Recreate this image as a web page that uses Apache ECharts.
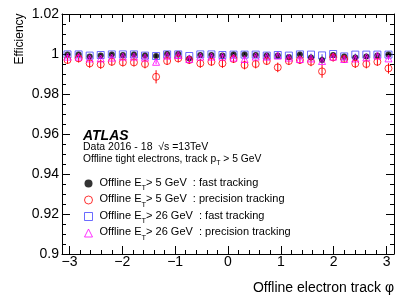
<!DOCTYPE html>
<html>
<head>
<meta charset="utf-8">
<script src="https://cdn.jsdelivr.net/npm/echarts@6/dist/echarts.min.js"></script>
<style>html,body{margin:0;padding:0;background:#fff;}#c{width:415px;height:298px;}</style>
</head>
<body>
<div id="c"></div>
<script>
// Bin centres in phi (30 bins over -pi..pi)
const phi = [-3.037,-2.827,-2.618,-2.409,-2.199,-1.990,-1.780,-1.571,-1.361,-1.152,
             -0.942,-0.733,-0.524,-0.314,-0.105, 0.105, 0.314, 0.524, 0.733, 0.942,
              1.152, 1.361, 1.571, 1.780, 1.990, 2.199, 2.409, 2.618, 2.827, 3.037];
// Offline ET > 5 GeV : fast tracking
const effFast5 = [0.9998,0.9998,0.9987,0.9992,0.9998,0.9995,0.9998,0.9992,0.9990,1.0000,
                  1.0000,0.9978,0.9995,0.9995,0.9992,0.9998,0.9998,0.9995,0.9992,0.9992,
                  0.9985,0.9998,0.9982,0.9970,0.9995,0.9987,0.9983,0.9987,0.9992,0.9998];
const errFast5 = [0.0008,0.0008,0.0009,0.0009,0.0008,0.0008,0.0008,0.0009,0.0010,0.0008,
                  0.0008,0.0010,0.0008,0.0008,0.0008,0.0008,0.0008,0.0008,0.0008,0.0008,
                  0.0009,0.0008,0.0010,0.0018,0.0008,0.0009,0.0009,0.0009,0.0008,0.0008];
// Offline ET > 5 GeV : precision tracking
const effPrec5 = [0.9970,0.9978,0.9953,0.9948,0.9961,0.9958,0.9958,0.9950,0.9886,0.9965,
                  0.9978,0.9970,0.9953,0.9961,0.9953,0.9975,0.9945,0.9950,0.9965,0.9933,
                  0.9965,0.9970,0.9961,0.9913,0.9983,0.9975,0.9952,0.9950,0.9961,0.9928];
const errPrec5 = [0.0020,0.0020,0.0022,0.0022,0.0020,0.0020,0.0020,0.0022,0.0033,0.0020,
                  0.0020,0.0020,0.0022,0.0020,0.0022,0.0020,0.0022,0.0022,0.0020,0.0024,
                  0.0020,0.0020,0.0022,0.0032,0.0020,0.0020,0.0022,0.0022,0.0020,0.0026];
// Offline ET > 26 GeV : fast tracking
const effFast26 = [0.9998,0.9998,0.9992,0.9995,0.9998,0.9998,0.9998,0.9992,0.9990,0.9998,
                   0.9998,0.9990,0.9998,0.9998,0.9995,0.9997,0.9997,0.9997,0.9992,0.9995,
                   0.9992,0.9998,0.9997,0.9993,1.0000,0.9988,0.9997,0.9997,0.9997,0.9997];
const errFast26 = [0.0005,0.0005,0.0005,0.0005,0.0005,0.0005,0.0005,0.0005,0.0006,0.0005,
                   0.0005,0.0006,0.0005,0.0005,0.0005,0.0005,0.0005,0.0005,0.0005,0.0005,
                   0.0005,0.0005,0.0005,0.0006,0.0005,0.0006,0.0005,0.0005,0.0005,0.0005];
// Offline ET > 26 GeV : precision tracking
const effPrec26 = [0.9987,0.9987,0.9978,0.9978,0.9982,0.9987,0.9987,0.9982,0.9961,0.9992,
                   0.9995,0.9975,0.9987,0.9987,0.9987,0.9982,0.9975,0.9987,0.9987,0.9992,
                   0.9982,0.9975,0.9978,0.9965,0.9987,0.9975,0.9978,0.9983,0.9992,0.9978];
const errPrec26 = [0.0008,0.0008,0.0009,0.0009,0.0008,0.0008,0.0008,0.0009,0.0012,0.0008,
                   0.0008,0.0009,0.0008,0.0008,0.0008,0.0008,0.0009,0.0008,0.0008,0.0008,
                   0.0008,0.0009,0.0009,0.0012,0.0008,0.0009,0.0009,0.0008,0.0008,0.0009];

const xTickLabels = [-3,-2,-1,0,1,2,3];
const yTickLabels = [0.9,0.92,0.94,0.96,0.98,1,1.02];
const X_MIN = -Math.PI, X_MAX = Math.PI;
const minorX = [];
for (let k = -15; k <= 15; k++) minorX.push(k * 0.2);

const FONT = "'Liberation Sans', Arial, Helvetica, sans-serif";

const seriesDefs = [
  {name:'fast5',  eff:effFast5,  err:errFast5,  color:'#000000', symbol:'circle',   size:6, fill:'#000000'},
  {name:'prec5',  eff:effPrec5,  err:errPrec5,  color:'#ff0000', symbol:'circle',   size:7, fill:'rgba(0,0,0,0)'},
  {name:'fast26', eff:effFast26, err:errFast26, color:'#4646ff', symbol:'rect',     size:7, fill:'rgba(0,0,0,0)'},
  {name:'prec26', eff:effPrec26, err:errPrec26, color:'#ff00ff', symbol:'triangle', size:7, fill:'rgba(0,0,0,0)'}
];
const legendText = {
  fast5:  '{t|Offline E}{s|T}{t|> 5 GeV  : fast tracking}',
  prec5:  '{t|Offline E}{s|T}{t|> 5 GeV  : precision tracking}',
  fast26: '{t|Offline E}{s|T}{t|> 26 GeV  : fast tracking}',
  prec26: '{t|Offline E}{s|T}{t|> 26 GeV  : precision tracking}'
};

const series = [];
const drawOrder = ['fast26','fast5','prec5','prec26'];
drawOrder.forEach((nm, idx) => {
  const d = seriesDefs.find(s => s.name === nm);
  const pts = phi.map((x,i) => [x, d.eff[i], d.err[i]]);
  series.push({
    type:'custom', name: nm + '_err', xAxisIndex:0, yAxisIndex:0, z: 2 + idx*2,
    silent:true, clip:true,
    data: pts,
    renderItem: function(params, api){
      const x = api.value(0), y = api.value(1), e = api.value(2);
      const p1 = api.coord([x, y - e]);
      const p2 = api.coord([x, y + e]);
      return {type:'line', shape:{x1:p1[0], y1:p1[1], x2:p2[0], y2:p2[1]},
              style:{stroke:d.color, lineWidth:1}};
    }
  });
  series.push({
    type:'scatter', name: nm, xAxisIndex:0, yAxisIndex:0, z: 3 + idx*2,
    symbol: d.symbol, symbolSize: d.size,
    itemStyle:{color:d.fill, borderColor:d.color, borderWidth: d.name==='fast5'?0:1},
    data: phi.map((x,i)=>[x, d.eff[i]]),
    animation:false
  });
});

const axisLine = {show:true, onZero:false, lineStyle:{color:'#000', width:1}};
const chart = echarts.init(document.getElementById('c'), null, {renderer:'canvas'});
chart.setOption({
  animation:false,
  backgroundColor:'#fff',
  textStyle:{fontFamily:FONT},
  grid:{left:62, right:21, top:14, bottom:44, containLabel:false},
  xAxis:[
    {type:'value', position:'bottom', min:X_MIN, max:X_MAX, axisLine:axisLine,
     splitLine:{show:false},
     axisTick:{show:true, inside:true, length:8, customValues:xTickLabels, lineStyle:{color:'#000'}},
     axisLabel:{show:true, customValues:xTickLabels, margin:1, fontSize:14, color:'#000', fontFamily:FONT,
                formatter:v => (v<0 ? '\u2212' + Math.abs(v) : String(v))}},
    {type:'value', position:'bottom', min:X_MIN, max:X_MAX, axisLine:{show:false, onZero:false}, splitLine:{show:false},
     axisTick:{show:true, inside:true, length:4, customValues:minorX, lineStyle:{color:'#000'}},
     axisLabel:{show:false}},
    {type:'value', position:'top', min:X_MIN, max:X_MAX, axisLine:axisLine, splitLine:{show:false},
     axisTick:{show:true, inside:true, length:8, customValues:xTickLabels, lineStyle:{color:'#000'}},
     axisLabel:{show:false}},
    {type:'value', position:'top', min:X_MIN, max:X_MAX, axisLine:{show:false, onZero:false}, splitLine:{show:false},
     axisTick:{show:true, inside:true, length:4, customValues:minorX, lineStyle:{color:'#000'}},
     axisLabel:{show:false}}
  ],
  yAxis:[
    {type:'value', position:'left', min:0.9, max:1.02, interval:0.02, axisLine:axisLine,
     splitLine:{show:false},
     axisTick:{show:true, inside:true, length:8, lineStyle:{color:'#000'}},
     minorTick:{show:true, splitNumber:4, length:4, lineStyle:{color:'#000'}},
     axisLabel:{show:true, margin:3, fontSize:14, color:'#000', fontFamily:FONT,
                customValues: yTickLabels,
                formatter:v => String(+(+v).toFixed(2))}},
    {type:'value', position:'right', min:0.9, max:1.02, interval:0.02, axisLine:axisLine,
     splitLine:{show:false},
     axisTick:{show:true, inside:true, length:8, lineStyle:{color:'#000'}},
     minorTick:{show:true, splitNumber:4, length:4, lineStyle:{color:'#000'}},
     axisLabel:{show:false}}
  ],
  legend:{
    show:true, orient:'vertical', left:84, top:177, padding:0, itemWidth:8, itemHeight:8, itemGap:1.5,
    selectedMode:false,
    formatter: n => legendText[n],
    textStyle:{fontFamily:FONT, padding:[0,0,0,2],
      rich:{
        t:{fontSize:11, color:'#000', fontFamily:FONT, lineHeight:13, verticalAlign:'top'},
        s:{fontSize:7.5, color:'#000', fontFamily:FONT, lineHeight:8, verticalAlign:'top', padding:[7,0,0,0]}
      }},
    data: seriesDefs.map(d => ({name:d.name, icon:d.symbol,
      itemStyle:{color:d.fill, borderColor:d.color, borderWidth: d.name==='fast5'?0:1}}))
  },
  graphic:[
    {type:'text', left:83, top:129, style:{text:'ATLAS', font:"italic bold 14px " + FONT, fill:'#000'}},
    {type:'text', left:83, top:141.5, style:{text:'Data 2016 - 18  \u221As =13TeV', font:"10.5px " + FONT, fill:'#000'}},
    {type:'text', left:83, top:154, style:{
      text:'{t|Offline tight electrons, track p}{s|T}{t| > 5 GeV}',
      rich:{t:{fontSize:10.3, fontFamily:FONT, fill:'#000', lineHeight:12, verticalAlign:'top'},
            s:{fontSize:7, fontFamily:FONT, fill:'#000', lineHeight:7, verticalAlign:'top', padding:[6,0,0,0]}}}},
    {type:'text', x:20, y:39, rotation:Math.PI/2,
     style:{text:'Efficiency', font:"12px " + FONT, fill:'#000', align:'center', verticalAlign:'middle'}},
    {type:'text', x:394, y:288,
     style:{text:'Offline electron track \u03C6', font:"14px " + FONT, fill:'#000', align:'right', verticalAlign:'middle'}}
  ],
  series: series
});
</script>
</body>
</html>
